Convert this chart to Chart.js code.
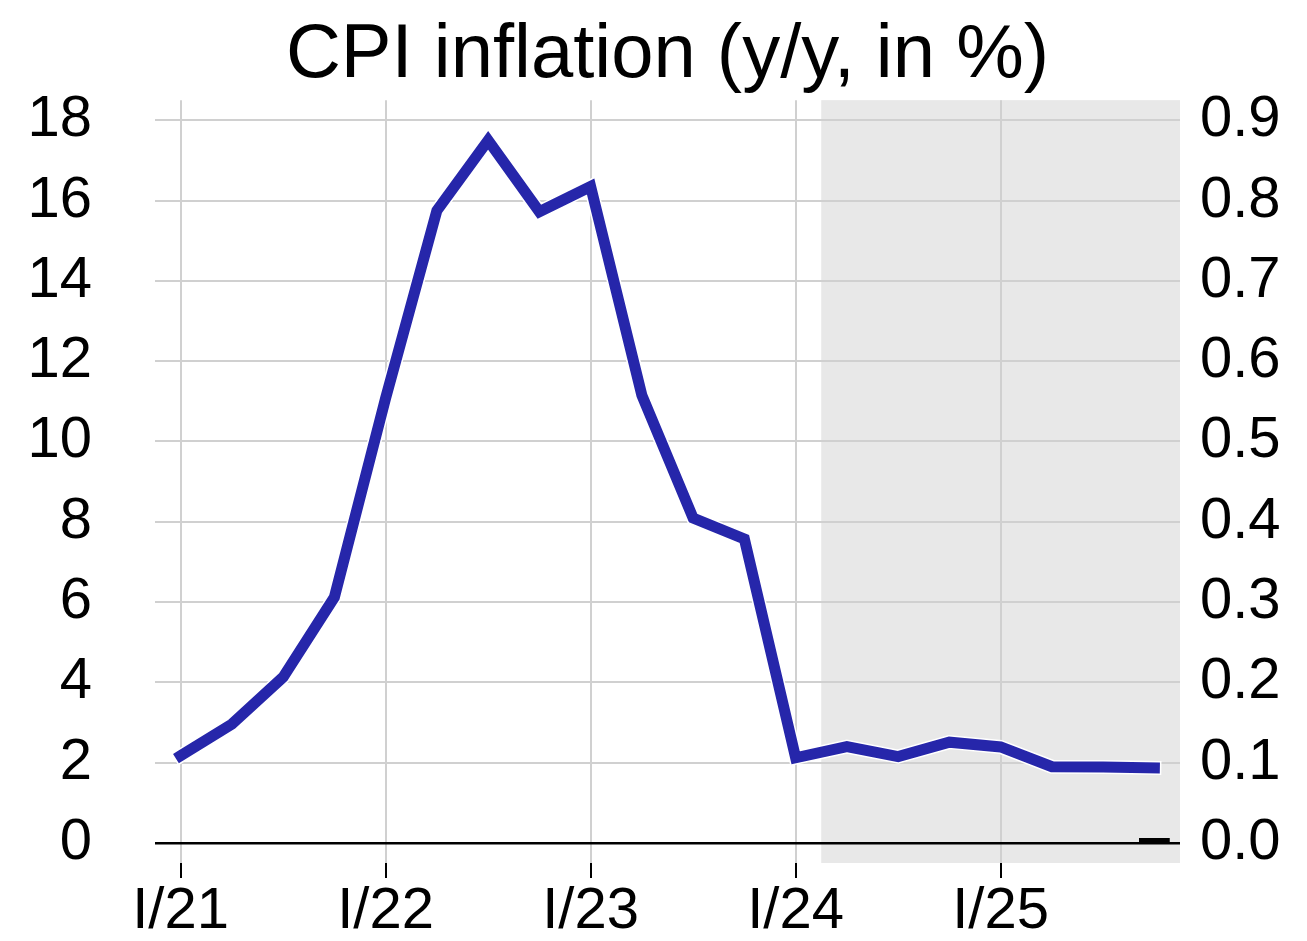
<!DOCTYPE html>
<html>
<head>
<meta charset="utf-8">
<script src="https://cdn.jsdelivr.net/npm/chart.js@4/dist/chart.umd.min.js"></script>
<style>
  html, body { margin: 0; padding: 0; background: #fff; }
  #wrap { width: 1307px; height: 941px; }
</style>
</head>
<body>
<div id="wrap"><canvas id="chart"></canvas></div>
<script>
const quarters = [
  'I/21', 'II/21', 'III/21', 'IV/21',
  'I/22', 'II/22', 'III/22', 'IV/22',
  'I/23', 'II/23', 'III/23', 'IV/23',
  'I/24', 'II/24', 'III/24', 'IV/24',
  'I/25', 'II/25', 'III/25', 'IV/25'
]
const cpi = [
  2.17, 2.96, 4.13, 6.12,
  11.08, 15.75, 17.5, 15.72,
  16.35, 11.15, 8.09, 7.57,
  2.12, 2.4, 2.15, 2.51,
  2.39, 1.9, 1.89, 1.87
]
// tiny marker sitting on the zero line of the right axis
const rightMarker = [
  null, null, null, null, null, null, null, null, null, null,
  null, null, null, null, null, null, null, null, null, 0.006
]
const leftTicks = [0, 2, 4, 6, 8, 10, 12, 14, 16, 18]
const rightTicks = [0, 0.1, 0.2, 0.3, 0.4, 0.5, 0.6, 0.7, 0.8, 0.9]
const forecastFrom = 12.5  // shaded part starts halfway between I/24 and II/24

const FONT = "'Liberation Sans', Arial, Helvetica, sans-serif"
const LINE_BLUE = '#2626aa'
const GRID = '#d0d0d0'

const forecastShade = {
  id: 'forecastShade',
  beforeDraw(chart) {
    const { ctx, chartArea, scales } = chart
    const x0 = scales.x.getPixelForValue(forecastFrom)
    ctx.save()
    ctx.fillStyle = '#e8e8e8'
    ctx.fillRect(x0, chartArea.top, chartArea.right - x0, chartArea.bottom - chartArea.top)
    ctx.restore()
  }
}

// fixed axis width, and no extra vertical room for the tick labels
const fitSide = (width) => (scale) => {
  scale.width = width
  scale.paddingTop = 0
  scale.paddingBottom = 0
}

new Chart(document.getElementById('chart'), {
  type: 'line',
  data: {
    labels: quarters,
    datasets: [
      {
        data: cpi,
        borderColor: LINE_BLUE,
        borderWidth: 11,
        borderCapStyle: 'square',
        borderJoinStyle: 'miter',
        pointRadius: 0,
        tension: 0,
        order: 1
      },
      {
        // white halo under the main line
        data: cpi,
        borderColor: '#ffffff',
        borderWidth: 14,
        borderCapStyle: 'square',
        borderJoinStyle: 'miter',
        pointRadius: 0,
        tension: 0,
        order: 2
      },
      {
        type: 'bar',
        data: rightMarker,
        yAxisID: 'y1',
        backgroundColor: '#000',
        barPercentage: 0.6,
        categoryPercentage: 1,
        order: 0
      }
    ]
  },
  options: {
    responsive: true,
    maintainAspectRatio: false,
    devicePixelRatio: 1,
    animation: false,
    layout: { padding: { left: 27, right: 26, top: 0, bottom: 0 } },
    plugins: {
      legend: { display: false },
      tooltip: { enabled: false },
      title: {
        display: true,
        fullSize: false,
        text: 'CPI inflation (y/y, in %)',
        color: '#000',
        font: { family: FONT, size: 76, weight: 'normal', lineHeight: 1.16 },
        padding: { top: 12, bottom: 0 }
      }
    },
    scales: {
      x: {
        type: 'category',
        offset: true,
        afterBuildTicks: (scale) => {
          scale.ticks = scale.ticks.filter(t => t.value % 4 === 0)
        },
        afterFit: (scale) => { scale.height = 78 },
        border: { display: false },
        grid: {
          offset: false,
          color: GRID,
          lineWidth: 2,
          drawTicks: true,
          tickLength: 15,
          tickColor: '#000',
          tickWidth: 2
        },
        ticks: {
          autoSkip: false,
          maxRotation: 0,
          color: '#000',
          padding: 5,
          font: { family: FONT, size: 58, lineHeight: 1 }
        }
      },
      y: {
        position: 'left',
        min: -0.5,
        max: 18.5,
        afterBuildTicks: (scale) => {
          scale.ticks = leftTicks.map(v => ({ value: v }))
        },
        afterFit: fitSide(128),
        border: { display: false },
        grid: {
          drawTicks: false,
          color: (ctx) => ctx.tick && ctx.tick.value === 0 ? '#000' : GRID,
          lineWidth: (ctx) => ctx.tick && ctx.tick.value === 0 ? 2.5 : 2
        },
        ticks: {
          color: '#000',
          padding: 63,
          font: { family: FONT, size: 58 }
        }
      },
      y1: {
        position: 'right',
        min: -0.025,
        max: 0.925,
        afterBuildTicks: (scale) => {
          scale.ticks = rightTicks.map(v => ({ value: v }))
        },
        afterFit: fitSide(101),
        border: { display: false },
        grid: { drawOnChartArea: false, drawTicks: false },
        ticks: {
          color: '#000',
          padding: 20,
          font: { family: FONT, size: 58 },
          callback: (v) => Number(v).toFixed(1)
        }
      }
    }
  },
  plugins: [forecastShade]
})
</script>
</body>
</html>
